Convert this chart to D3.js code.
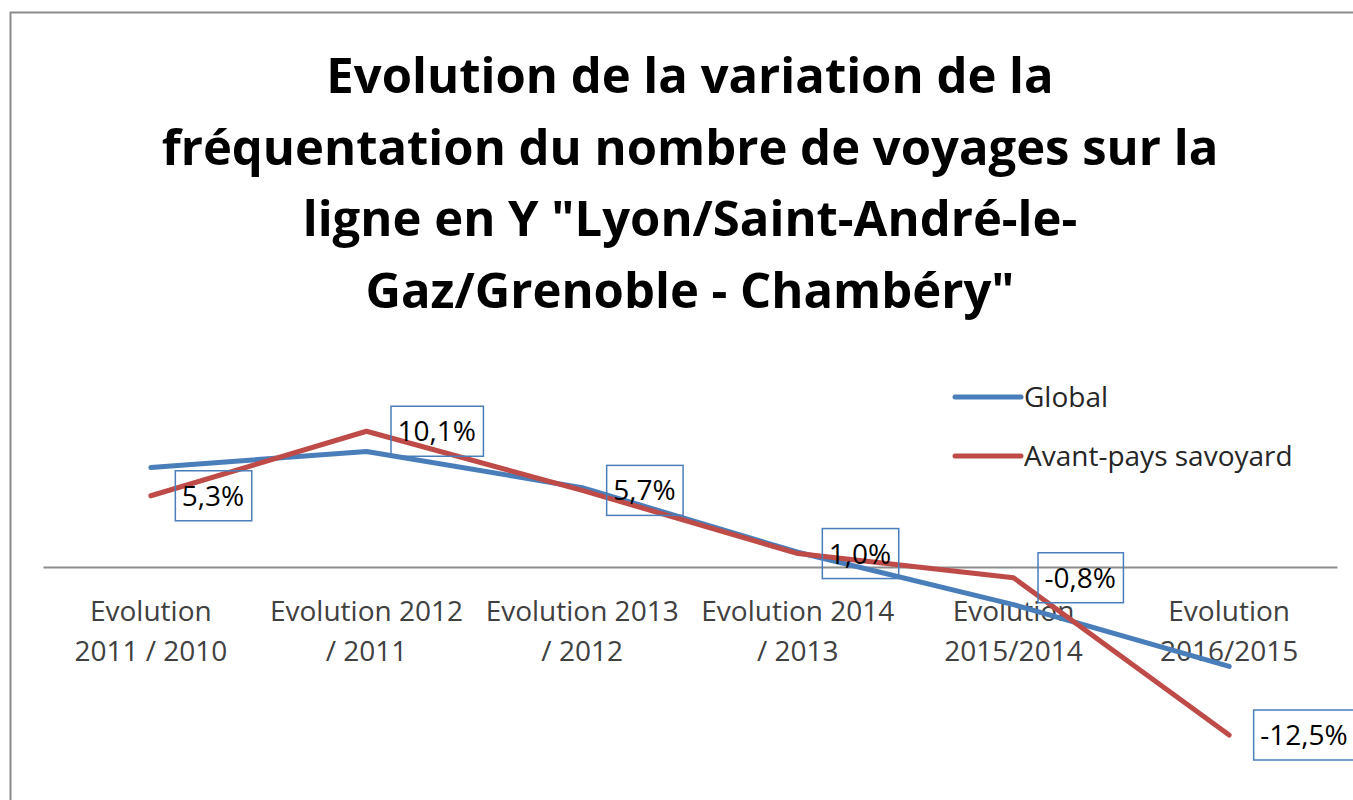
<!DOCTYPE html>
<html>
<head>
<meta charset="utf-8">
<script src="https://cdn.jsdelivr.net/npm/d3@7"></script>
<style>
  body { margin: 0; background: #fff; }
  svg { display: block; }
</style>
</head>
<body>
<div id="chart"></div>
<script>
// data
const categories = ["2011/2010", "2012/2011", "2013/2012", "2014/2013", "2015/2014", "2016/2015"];
const categoryLabels = [
  ["Evolution", "2011 / 2010"],
  ["Evolution 2012", "/ 2011"],
  ["Evolution 2013", "/ 2012"],
  ["Evolution 2014", "/ 2013"],
  ["Evolution", "2015/2014"],
  ["Evolution", "2016/2015"]
];
const globalValues = [7.4, 8.6, 5.9, 1.1, -2.8, -7.4];
const avantPaysValues = [5.3, 10.1, 5.7, 1.0, -0.8, -12.5];
const seriesNames = ["Global", "Avant-pays savoyard"];
const seriesColors = ["#4a7ebb", "#be4b48"];
const titleLines = [
  "Evolution de la variation de la",
  "fréquentation du nombre de voyages sur la",
  "ligne en Y \"Lyon/Saint-André-le-",
  "Gaz/Grenoble - Chambéry\""
];

const width = 1353, height = 800;
const plotLeft = 43, plotRight = 1337;
const fontFam = "'Open Sans', 'Noto Sans', sans-serif";

const svg = d3.select("#chart").append("svg")
  .attr("width", width)
  .attr("height", height);

// outer frame
svg.append("rect")
  .attr("x", 10.5).attr("y", 12.5)
  .attr("width", width).attr("height", height)
  .attr("fill", "none")
  .attr("stroke", "#8c8c8c")
  .attr("stroke-width", 2);

// title
svg.append("g").selectAll("text")
  .data(titleLines)
  .enter().append("text")
  .attr("x", 690)
  .attr("y", (d, i) => 93 + i * 71.5)
  .attr("text-anchor", "middle")
  .attr("font-family", fontFam)
  .attr("font-weight", "bold")
  .attr("font-size", 49)
  .attr("fill", "#000")
  .text(d => d);

const x = d3.scaleBand()
  .domain(categories)
  .range([plotLeft, plotRight]);

const y = d3.scaleLinear()
  .domain([-12.5, 10.1])
  .range([735, 431.25]);

// zero axis
svg.append("g")
  .attr("transform", `translate(0,${y(0)})`)
  .call(d3.axisBottom(x).tickSize(0).tickFormat(""))
  .call(g => g.select(".domain").attr("stroke", "#8c8c8c").attr("stroke-width", 2));

// category labels
const catG = svg.append("g");
categoryLabels.forEach((lines, i) => {
  catG.append("text")
    .attr("x", x(categories[i]) + x.bandwidth() / 2)
    .attr("text-anchor", "middle")
    .attr("font-family", fontFam)
    .attr("font-size", 28)
    .attr("fill", "#404040")
    .selectAll("tspan")
    .data(lines)
    .enter().append("tspan")
    .attr("x", x(categories[i]) + x.bandwidth() / 2)
    .attr("y", (d, j) => 621 + j * 40)
    .text(d => d);
});

const line = d3.line()
  .x((d, i) => x(categories[i]) + x.bandwidth() / 2)
  .y(d => y(d));

[globalValues, avantPaysValues].forEach((vals, k) => {
  svg.append("path")
    .datum(vals)
    .attr("fill", "none")
    .attr("stroke", seriesColors[k])
    .attr("stroke-width", 5)
    .attr("stroke-linecap", "round")
    .attr("stroke-linejoin", "round")
    .attr("d", line);
});

// data labels (Avant-pays savoyard values)
const fmt = v => d3.format(".1f")(v).replace("\u2212", "-").replace(".", ",") + "%";
const lab = svg.append("g").selectAll("g")
  .data(avantPaysValues)
  .enter().append("g")
  .attr("transform", (d, i) => `translate(${x(categories[i]) + x.bandwidth() / 2 + 24},${y(d)})`);

lab.append("text")
  .attr("x", 7)
  .attr("y", 10)
  .attr("font-family", fontFam)
  .attr("font-size", 28)
  .attr("fill", "#000")
  .text(d => fmt(d));

lab.each(function () {
  const g = d3.select(this);
  const w = g.select("text").node().getComputedTextLength();
  g.insert("rect", "text")
    .attr("x", 0.5)
    .attr("y", -25)
    .attr("width", w + 14)
    .attr("height", 50)
    .attr("fill", "none")
    .attr("stroke", "#4a7ebb")
    .attr("stroke-width", 1.5);
});

// legend
const leg = svg.append("g").selectAll("g")
  .data(seriesNames)
  .enter().append("g")
  .attr("transform", (d, i) => `translate(955,${397 + i * 59})`);

leg.append("line")
  .attr("x1", 0).attr("x2", 66)
  .attr("stroke", (d, i) => seriesColors[i])
  .attr("stroke-width", 5)
  .attr("stroke-linecap", "round");

leg.append("text")
  .attr("x", 69)
  .attr("y", 10)
  .attr("font-family", fontFam)
  .attr("font-size", 28)
  .attr("fill", "#262626")
  .text(d => d);
</script>
</body>
</html>
